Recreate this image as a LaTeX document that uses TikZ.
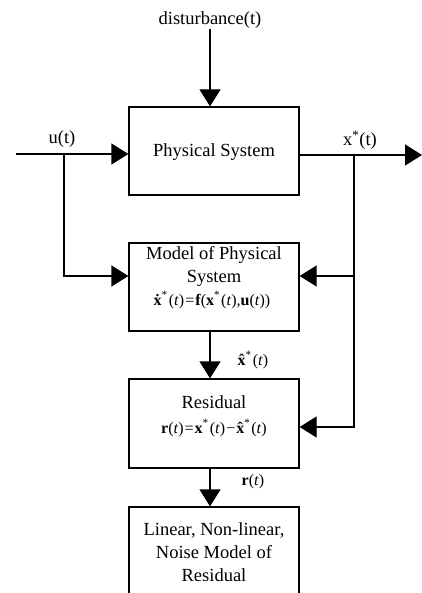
\documentclass[tikz,border=0pt]{standalone}
\usepackage{fontspec}
\setmainfont{Liberation Serif}
\usetikzlibrary{arrows.meta}
\newcommand\sstar{\textsuperscript{*}}
% bold x with a circumflex stacked over it
\newcommand\hatx{\textbf{\ooalign{x\cr\hidewidth\char"02C6\hidewidth\cr}}}
\begin{document}
\begin{tikzpicture}[x=1pt,y=-1pt,
  box/.style={draw,line width=1.3pt,minimum width=170pt,minimum height=#1,inner sep=0pt},
  lbl/.style={font=\fontsize{18.5}{22}\selectfont,inner sep=0pt,align=center},
  eq/.style={font=\fontsize{16}{18}\selectfont,inner sep=0pt},
  wire/.style={line width=1.3pt},
  arr/.style={wire,-{Triangle[length=17pt,width=21pt]}}]
\useasboundingbox (0,0) rectangle (422,593);

% blocks
\node[box=88pt] (phys) at (214,151) {};
\node[box=88pt] (model) at (214,287) {};
\node[box=89pt] (resid) at (214,423.5) {};
\begin{scope}
  \clip (0,0) rectangle (422,593);
  \node[box=113pt] (noise) at (214,563.5) {};
\end{scope}

% block texts
\node[lbl] (tphys) at (214,152) {Physical System};
\node[lbl] (tmodel1) at (214,255) {Model of Physical};
\node[lbl] (tmodel2) at (214,278) {System};
\node[eq] (tmodel3) at (212,300) {\textbf{\.x}\sstar\kern1pt(\textit{t})\kern1pt=\kern1pt\textbf{f}(\textbf{x}\sstar\kern1pt(\textit{t}),\textbf{u}(\textit{t}))};
\node[lbl] (tres1) at (214,402) {Residual};
\node[eq] (tres2) at (214,428) {\textbf{r}(\textit{t})\kern1pt=\kern1pt\textbf{x}\sstar\kern1pt(\textit{t})\kern1pt−\kern1pt\hatx\sstar\kern1pt(\textit{t})};
\node[lbl] (tnoise1) at (214,530) {Linear, Non-linear,};
\node[lbl] (tnoise2) at (214,552) {Noise Model of};
\node[lbl] (tnoise3) at (214,575) {Residual};

% signal labels
\node[lbl,anchor=south] (dlab) at (210,29) {disturbance(t)};
\node[lbl] (ulab) at (62,139) {u(t)};
\node[lbl] (xlab) at (360,140) {x\sstar(t)};
\node[eq] (xhatlab) at (253,360) {\hatx\sstar\kern1pt(\textit{t})};
\node[eq] (rlab) at (253,482) {\textbf{r}(\textit{t})};

% routing points
\coordinate (uin) at (16,154);
\coordinate (usplit) at (64,154);
\coordinate (xsplit) at (354,155);
\coordinate (xout) at (422,155);
\coordinate (mrow) at (0,276);
\coordinate (rrow) at (0,427);
\coordinate (col) at (210,0);

% connectors
\draw[arr] (dlab.south) -- (phys.north -| dlab.south);
\draw[arr] (uin) -- (uin -| phys.west);
\draw[arr] (usplit) |- (model.west |- mrow);
\draw[arr] (phys.east |- xsplit) -- (xout);
\draw[arr] (xsplit) |- (model.east |- mrow);
\draw[arr] (xsplit) |- (resid.east |- rrow);
\draw[arr] (model.south -| col) -- (resid.north -| col);
\draw[arr] (resid.south -| col) -- (noise.north -| col);
\end{tikzpicture}
\end{document}
